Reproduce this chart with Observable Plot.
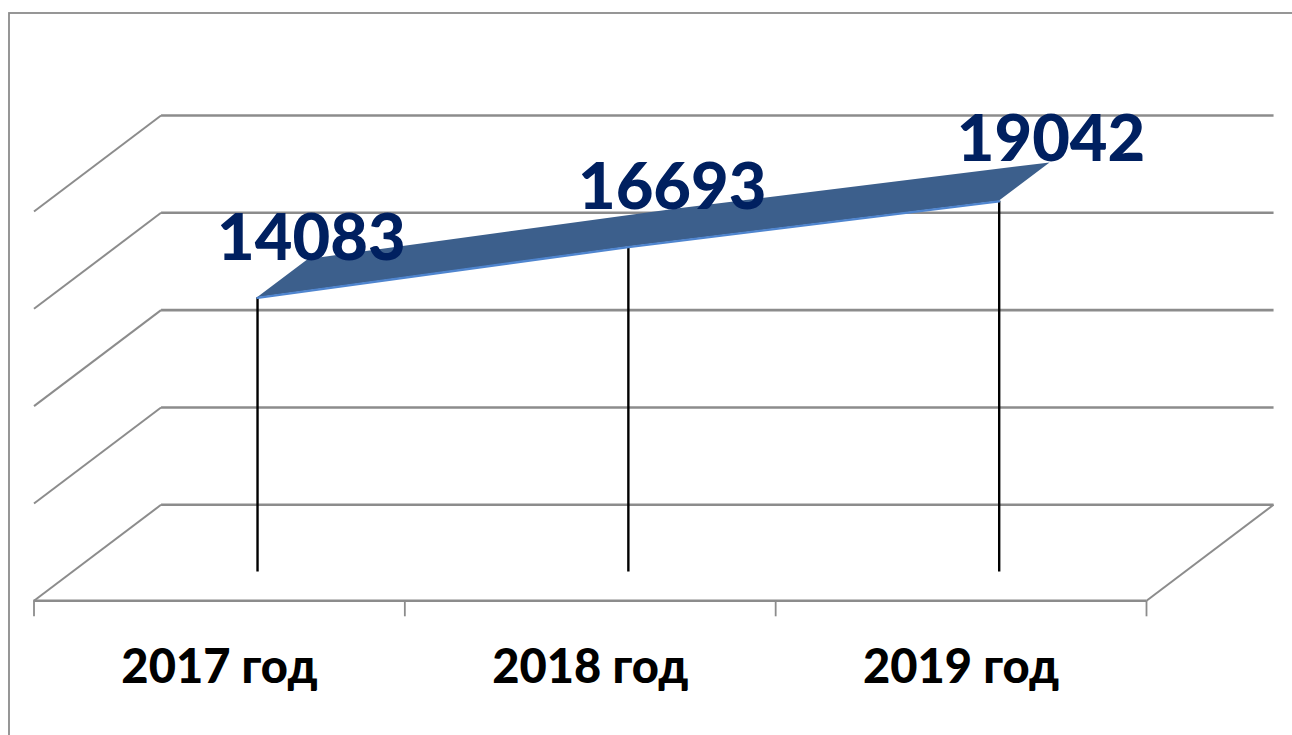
<!DOCTYPE html>
<html>
<head>
<meta charset="utf-8">
<script src="https://cdn.jsdelivr.net/npm/d3@7"></script>
<script src="https://cdn.jsdelivr.net/npm/@observablehq/plot@0.6"></script>
<style>
html,body{margin:0;padding:0;background:#fff;overflow:hidden;width:1292px;height:735px}
svg{display:block}
</style>
</head>
<body>
<div id="chart"></div>
<script>
const categories = ["2017 год", "2018 год", "2019 год"];
const values = [14083, 16693, 19042];
const gridValues = [0, 5000, 10000, 15000, 20000];
const categoryEdges = [0, 1, 2, 3];
const ribbonDepth = [0.3, 0.7];

// oblique projection of the chart's 3-D box onto the plane
const depthX = 0.3426;   // category units per unit of depth
const depthY = 4932;     // value units per unit of depth
const px = (c, d) => c + d * depthX;
const py = (v, d) => v + d * depthY;

const GRID = "#8c8c8c";
const rows = categories.map((name, i) => ({name, i, c: i + 0.5, v: values[i]}));
const [front, back] = ribbonDepth;
const labelDx = [3, -7, 1];
const labelDy = [-20, -20, -23];

const chart = Plot.plot({
  width: 1292, height: 735,
  marginLeft: 33.5, marginRight: 146, marginTop: 211, marginBottom: 134.7,
  x: {type: "linear", domain: [0, 3], axis: null},
  y: {type: "linear", domain: [0, 20000], axis: null},
  marks: [
    // outer chart-area border, running off the page on the right and bottom
    Plot.frame({stroke: GRID, strokeWidth: 1.8, insetLeft: -25, insetTop: -198.5, insetRight: -300, insetBottom: -300}),
    // side wall diagonals
    Plot.link(gridValues, {x1: () => px(0, 0), y1: v => py(v, 0), x2: () => px(0, 1), y2: v => py(v, 1), stroke: GRID, strokeWidth: 2}),
    // back wall
    Plot.link(gridValues, {x1: () => px(0, 1), y1: v => py(v, 1), x2: () => px(3, 1), y2: v => py(v, 1), stroke: GRID, strokeWidth: 2.6}),
    // floor
    Plot.link([0], {x1: () => px(3, 0), y1: () => py(0, 0), x2: () => px(3, 1), y2: () => py(0, 1), stroke: GRID, strokeWidth: 2}),
    Plot.ruleY([0], {stroke: GRID, strokeWidth: 2.6}),
    Plot.axisX({ticks: categoryEdges, fill: "none", tickSize: 16, stroke: GRID, strokeWidth: 1.8, label: null}),
    Plot.axisX({
      ticks: rows.map(d => d.c), tickFormat: c => categories[Math.floor(c)], tickSize: 0, tickPadding: 49,
      fontSize: 47, fontWeight: 900, fontFamily: "Lato", fill: "#000", label: null, stroke: "none"
    }),
    // drop lines
    Plot.ruleX(rows, {x: d => px(d.c, front), y1: () => py(0, front), y2: d => py(d.v, front), stroke: "#000", strokeWidth: 2.4}),
    // ribbon
    Plot.area(rows, {x1: d => px(d.c, front), y1: d => py(d.v, front), x2: d => px(d.c, back), y2: d => py(d.v, back), fill: "#3c5f8c", curve: "linear"}),
    Plot.line(rows, {x: d => px(d.c, front), y: d => py(d.v, front), stroke: "#4f85cf", strokeWidth: 2.4}),
    // value labels
    ...rows.map((d, k) => Plot.text([d], {
      x: d => px(d.c, back), y: d => py(d.v, back), text: d => String(d.v),
      dx: labelDx[k], dy: labelDy[k], fontSize: 65, fontWeight: 900, fontFamily: "Lato", fill: "#002060"
    }))
  ]
});
document.getElementById("chart").append(chart);
</script>
</body>
</html>
